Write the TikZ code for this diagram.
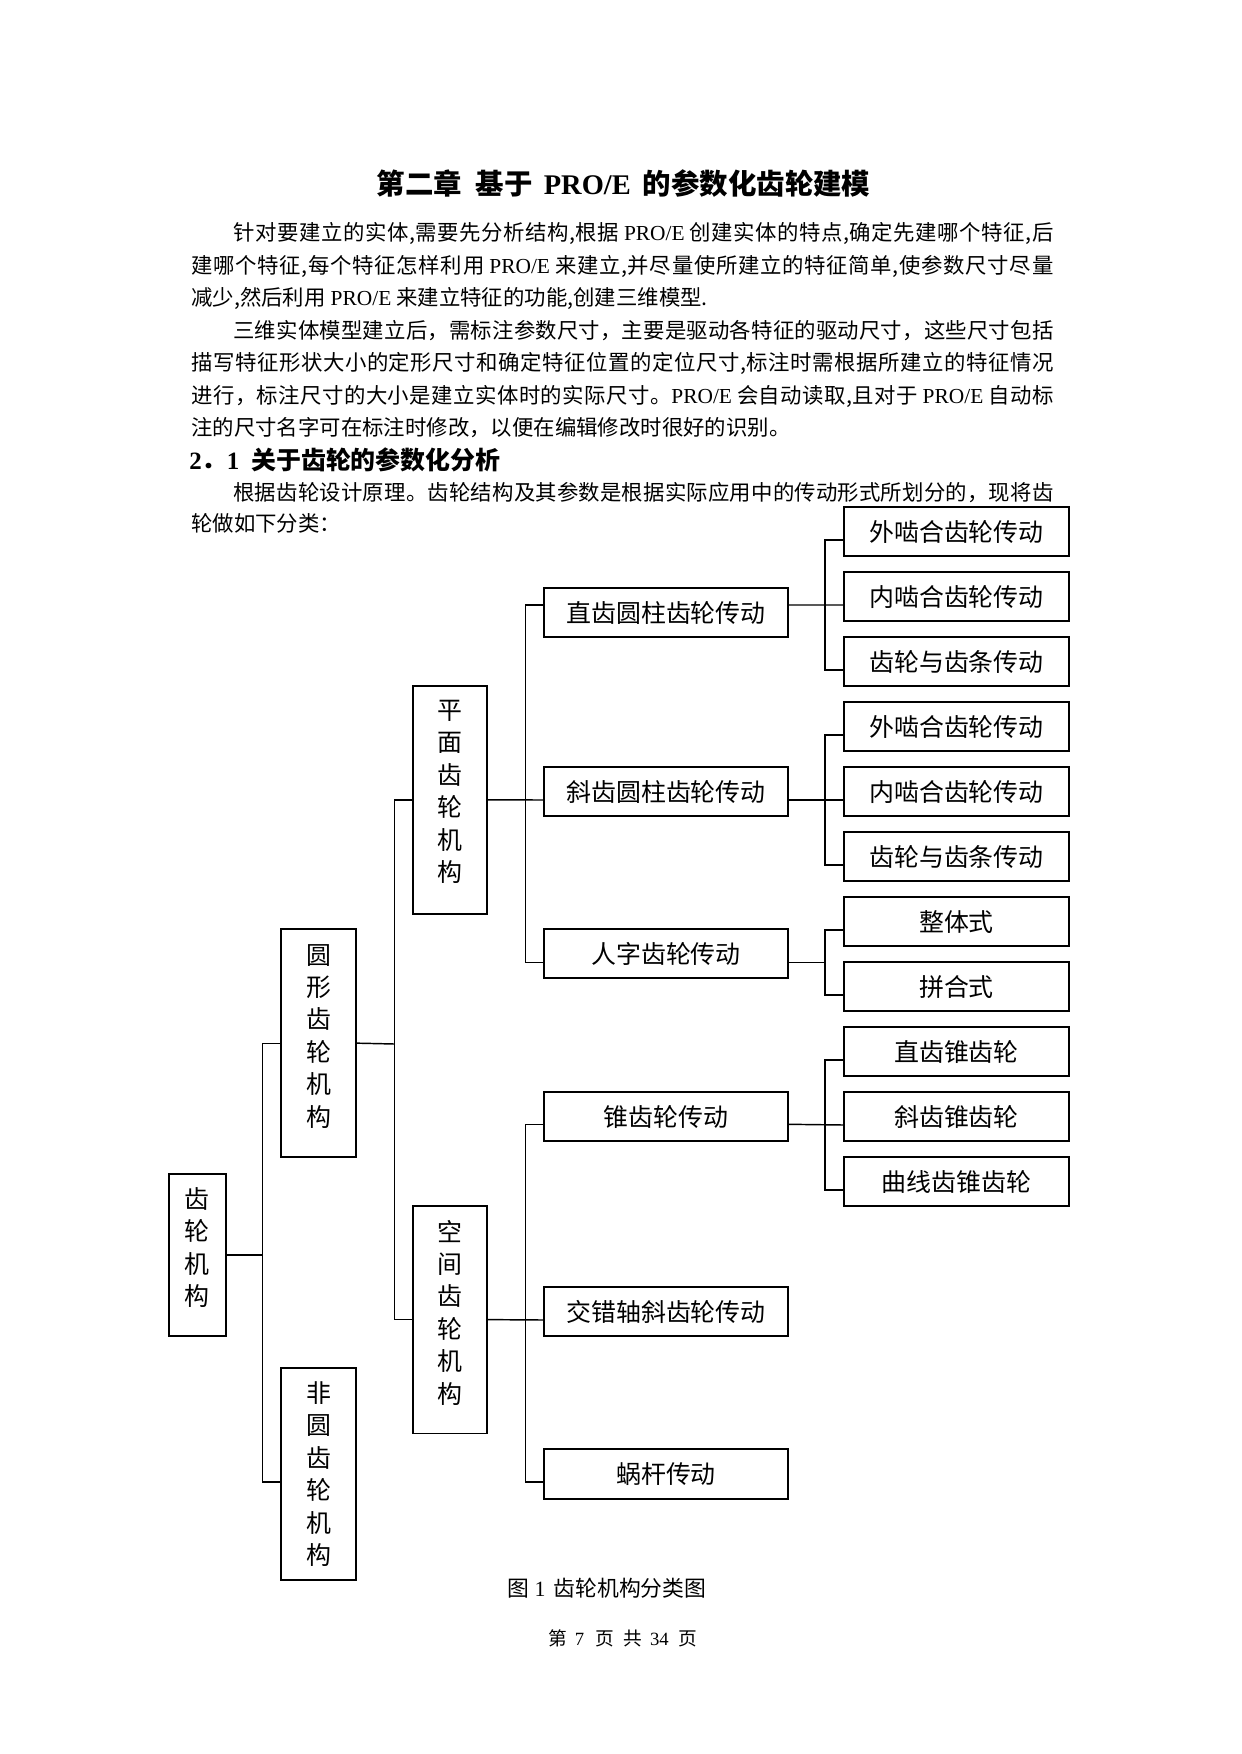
\documentclass[tikz,border=0pt]{standalone}
\usepackage{fontspec}
\setmainfont{Noto Sans CJK SC}
\newfontfamily\lat{Liberation Serif}
\usetikzlibrary{calc}
\newdimen\pxd \pxd=0.16922mm
\newdimen\linew \linew=862\pxd
% inter-character stretch for justified CJK lines
\newXeTeXintercharclass\cjkcls
\newcount\cjkcc
\cjkcc="3000 \loop \XeTeXcharclass\cjkcc=\cjkcls \advance\cjkcc by 1 \ifnum\cjkcc<"3040 \repeat
\cjkcc="4E00 \loop \XeTeXcharclass\cjkcc=\cjkcls \advance\cjkcc by 1 \ifnum\cjkcc<"A000 \repeat
\cjkcc="FF00 \loop \XeTeXcharclass\cjkcc=\cjkcls \advance\cjkcc by 1 \ifnum\cjkcc<"FFF0 \repeat
\XeTeXcharclass`\,=\cjkcls
\XeTeXinterchartoks\cjkcls\cjkcls={\hskip 0pt plus 1pt\relax}
\XeTeXinterchartokenstate=1
\tikzset{
  frame/.style={draw, line width=0.8pt, inner sep=0pt, font=\fontsize{12pt}{15.6pt}\selectfont},
  rbox/.style={frame, minimum width=225*\pxd, minimum height=48.5*\pxd},
  mbox/.style={frame, minimum width=244*\pxd, minimum height=49*\pxd},
  vtext/.style={align=center, inner sep=0pt, font=\fontsize{12pt}{15.6pt}\selectfont},
  link/.style={line width=0.7pt},
  thinlink/.style={line width=0.5pt},
  body/.style={anchor=base west, inner sep=0pt, font=\fontsize{10.3pt}{15pt}\selectfont},
}
\newcommand\proe{\kern5\pxd{\lat PRO/E}\kern5\pxd}
\begin{document}
\begin{tikzpicture}[x=0.16922mm,y=-0.16922mm]
\path[use as bounding box, fill=white] (0,0) rectangle (1241,1754);

% ---------- text ----------
\node[anchor=base, inner sep=0pt, font=\fontsize{13.7pt}{16pt}\selectfont\bfseries] (title) at (623.5,194.5)
  {第二章\kern14\pxd 基于\kern11\pxd{\lat\bfseries PRO/E}\kern12\pxd 的参数化齿轮建模};
\node[body] (t1) at (191,241) {\hbox to \linew{\hskip42\pxd 针对要建立的实体,需要先分析结构,根据\proe 创建实体的特点,确定先建哪个特征,后}};
\node[body] (t2) at (191,273.5) {\hbox to \linew{建哪个特征,每个特征怎样利用\proe 来建立,并尽量使所建立的特征简单,使参数尺寸尽量}};
\node[body] (t3) at (191,306) {减少,然后利用\proe 来建立特征的功能,创建三维模型.};
\node[body] (t4) at (191,338.5) {\hbox to \linew{\hskip42\pxd 三维实体模型建立后，需标注参数尺寸，主要是驱动各特征的驱动尺寸，这些尺寸包括}};
\node[body] (t5) at (191,371) {\hbox to \linew{描写特征形状大小的定形尺寸和确定特征位置的定位尺寸,标注时需根据所建立的特征情况}};
\node[body] (t6) at (191,403.5) {\hbox to \linew{进行，标注尺寸的大小是建立实体时的实际尺寸。{\lat PRO/E}\kern5\pxd 会自动读取,且对于\proe 自动标}};
\node[body] (t7) at (191,436) {注的尺寸名字可在标注时修改，以便在编辑修改时很好的识别。};
\node[body, font=\fontsize{12pt}{15pt}\selectfont\bfseries] (h21) at (189,470)
  {{\lat\bfseries 2}．{\lat\bfseries 1}\kern12\pxd 关于齿轮的参数化分析};
\node[body] (t8) at (191,500.5) {\hbox to \linew{\hskip42\pxd 根据齿轮设计原理。齿轮结构及其参数是根据实际应用中的传动形式所划分的，现将齿}};
\node[body] (t9) at (191,532) {轮做如下分类：};

% ---------- diagram ----------
\node[rbox] (r1)  at (956.5,531.55)  {外啮合齿轮传动};
\node[rbox] (r2)  at (956.5,596.55)  {内啮合齿轮传动};
\node[rbox] (r3)  at (956.5,661.55)  {齿轮与齿条传动};
\node[rbox] (r4)  at (956.5,726.55)  {外啮合齿轮传动};
\node[rbox] (r5)  at (956.5,791.55)  {内啮合齿轮传动};
\node[rbox] (r6)  at (956.5,856.55)  {齿轮与齿条传动};
\node[rbox] (r7)  at (956.5,921.55)  {整体式};
\node[rbox] (r8)  at (956.5,986.55)  {拼合式};
\node[rbox] (r9)  at (956.5,1051.55) {直齿锥齿轮};
\node[rbox] (r10) at (956.5,1116.55) {斜齿锥齿轮};
\node[rbox] (r11) at (956.5,1181.55) {曲线齿锥齿轮};

\node[mbox] (s1) at (666,612.8)  {直齿圆柱齿轮传动};
\node[mbox] (s2) at (666,791.8)  {斜齿圆柱齿轮传动};
\node[mbox] (s3) at (666,953.8)  {人字齿轮传动};
\node[mbox] (s4) at (666,1116.8) {锥齿轮传动};
\node[mbox] (s5) at (666,1311.8) {交错轴斜齿轮传动};
\node[mbox, minimum height=49.7*\pxd] (s6) at (666,1474.15) {蜗杆传动};

\node[frame, minimum width=74*\pxd, minimum height=228.3*\pxd,
  label={[vtext, yshift=8*\pxd]center:{平\\面\\齿\\轮\\机\\构}}] (plane) at (450,799.85) {};
\node[frame, minimum width=74*\pxd, minimum height=227.8*\pxd,
  label={[vtext, yshift=7*\pxd]center:{空\\间\\齿\\轮\\机\\构}}] (space) at (450,1319.6) {};
\node[frame, minimum width=75*\pxd, minimum height=227.7*\pxd,
  label={[vtext, yshift=7*\pxd]center:{圆\\形\\齿\\轮\\机\\构}}] (round) at (318.5,1043.15) {};
\node[frame, minimum width=75*\pxd, minimum height=211.7*\pxd,
  label={[vtext]center:{非\\圆\\齿\\轮\\机\\构}}] (nonround) at (318.5,1474.15) {};
\node[frame, minimum width=56.7*\pxd, minimum height=162*\pxd,
  label={[vtext, yshift=7.5*\pxd]center:{齿\\轮\\机\\构}}] (root) at (197.35,1255) {};

% junction points
\coordinate (b0) at (262.5,1255);
\coordinate (b1) at (394.3,1044);
\coordinate (b2) at (525.5,800);
\coordinate (b3) at (525.5,1320);
\coordinate (c1) at (825,605);
\coordinate (c2) at (825,800);
\coordinate (c3) at (825,962.3);
\coordinate (c4) at (825,1124.3);

% root -> level 1
\draw[thinlink] (root.east) -- (b0);
\draw[thinlink] (round.west) -| (b0) |- ($(nonround.west)+(0,7.85)$);
% level 1 -> level 2
\draw[link] (round.east) -- (b1);
\draw[link] (plane.west) -| (b1) |- (space.west);
% level 2 -> level 3
\draw[link] (plane.east) -- ($(s2.west)+(0,8.2)$);
\draw[link] ($(s1.west)+(0,-7.8)$) -| (b2) |- ($(s3.west)+(0,8.5)$);
\draw[link] (space.east) -- ($(s5.west)+(0,8.2)$);
\draw[link] ($(s4.west)+(0,7.5)$) -| (b3) |- ($(s6.west)+(0,7.85)$);
% level 3 -> level 4
\draw[link] ($(s1.east)+(0,-7.8)$) -- ($(r2.west)+(0,8.45)$);
\draw[link] ($(r1.west)+(0,8.45)$) -| (c1) |- ($(r3.west)+(0,8.45)$);
\draw[link] ($(s2.east)+(0,8.2)$) -- ($(r5.west)+(0,8.45)$);
\draw[link] ($(r4.west)+(0,8.45)$) -| (c2) |- ($(r6.west)+(0,8.45)$);
\draw[link] ($(s3.east)+(0,8.5)$) -- (c3);
\draw[link] ($(r7.west)+(0,8.45)$) -| (c3) |- ($(r8.west)+(0,8.45)$);
\draw[link] ($(s4.east)+(0,7.5)$) -- ($(r10.west)+(0,8.45)$);
\draw[link] ($(r9.west)+(0,8.45)$) -| (c4) |- ($(r11.west)+(0,8.45)$);

% ---------- caption and footer ----------
\node[anchor=base west, inner sep=0pt, font=\fontsize{10.5pt}{12pt}\selectfont] (cap) at (507.5,1596)
  {图\kern5\pxd{\lat 1}\kern8\pxd 齿轮机构分类图};
\node[anchor=base west, inner sep=0pt, font=\fontsize{9pt}{11pt}\selectfont] (foot) at (547.7,1645)
  {第\kern8\pxd{\lat 7}\kern11\pxd 页\kern9.5\pxd 共\kern8\pxd{\lat 34}\kern10\pxd 页};
\end{tikzpicture}
\end{document}
